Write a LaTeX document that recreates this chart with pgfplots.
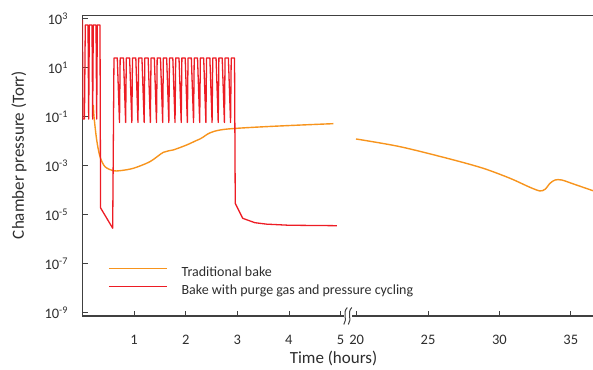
\documentclass[border=0pt]{standalone}
\usepackage{fontspec}
\setmainfont{Carlito}
\usepackage{pgfplots}
\pgfplotsset{compat=1.18}
\definecolor{tradorange}{RGB}{247,148,29}
\definecolor{purgered}{RGB}{237,28,36}
\definecolor{axgray}{RGB}{64,64,64}
\definecolor{txtgray}{RGB}{45,45,45}
\begin{document}
\begin{tikzpicture}
\useasboundingbox (-82.5pt,-53pt) rectangle (510.5pt,316pt);
\begin{axis}[at={(0pt,0pt)}, anchor=south west,
  scale only axis, height=300.3pt, width=265.5pt,
  ymode=log, ymin=7.3e-10, ymax=1325,
  xmin=0, xmax=5.145,
  axis x line*=box, xtick pos=bottom,
  axis y line*=left, ytick pos=left,
  tick align=inside, major tick length=5pt,
  major tick style={axgray, line width=0.8pt},
  axis line style={-, axgray, line width=1.1pt},
  tick label style={font=\fontsize{14.5}{17}\selectfont, text=txtgray},
  /pgf/number format/assume math mode=true,
  xticklabel style={yshift=-16pt},
  yminorticks=false, xminorticks=false,
  xtick={1,2,3,4,5},
  ytick={1e3,1e1,1e-1,1e-3,1e-5,1e-7,1e-9},
  yticklabels={10\textsuperscript{3},10\textsuperscript{1},10\textsuperscript{-1},10\textsuperscript{-3},10\textsuperscript{-5},10\textsuperscript{-7},10\textsuperscript{-9}},
  yticklabel style={xshift=-11pt},
  legend style={draw=none, fill=none, anchor=north west,
    at={(axis description cs:0.096,0.1665)},
    font=\fontsize{14}{16}\selectfont, text=txtgray,
    inner sep=0pt, column sep=14pt, row sep=5pt,
    nodes={inner sep=0pt, text height=10pt, text depth=3pt}},
  legend cell align=left,
  legend image code/.code={\draw[#1] (0pt,4.5pt) -- (58pt,4.5pt);},
]
\addplot[tradorange, line width=1.4pt, smooth, tension=0.5] coordinates {
(0.209,0.3) (0.223,0.1) (0.275,0.0112) (0.339,2.33e-3)
(0.436,9.1e-4) (0.597,6.25e-4) (0.727,6.25e-4) (0.984,7.8e-4) (1.308,1.46e-3)
(1.566,3.5e-3) (1.760,4.4e-3) (2.019,7.0e-3) (2.277,0.0123) (2.762,0.0306) (4.86,0.0518)
};
\addlegendentry{Traditional bake}
\addplot[purgered, line width=1.3pt, line join=round] coordinates {
(0,900) (0.006,0.08) (0.038,0.08)
(0.054,550) (0.107,550) (0.120,0.08)
(0.132,550) (0.184,550) (0.197,0.08)
(0.209,550) (0.262,550) (0.275,0.08)
(0.287,550) (0.339,550)
(0.350,1.9e-5) (0.585,2.8e-6)
(0.610,25) (0.674,25) (0.717,0.058)
(0.730,25) (0.794,25) (0.836,0.058)
(0.849,25) (0.913,25) (0.956,0.058)
(0.969,25) (1.033,25) (1.075,0.058)
(1.088,25) (1.152,25) (1.195,0.058)
(1.208,25) (1.272,25) (1.315,0.058)
(1.328,25) (1.392,25) (1.434,0.058)
(1.447,25) (1.511,25) (1.554,0.058)
(1.567,25) (1.631,25) (1.673,0.058)
(1.686,25) (1.750,25) (1.793,0.058)
(1.806,25) (1.870,25) (1.913,0.058)
(1.926,25) (1.990,25) (2.032,0.058)
(2.045,25) (2.109,25) (2.152,0.058)
(2.165,25) (2.229,25) (2.271,0.058)
(2.284,25) (2.348,25) (2.391,0.058)
(2.404,25) (2.468,25) (2.511,0.058)
(2.524,25) (2.588,25) (2.630,0.058)
(2.643,25) (2.707,25) (2.750,0.058)
(2.763,25) (2.827,25) (2.869,0.058)
(2.882,25) (2.946,25)
(2.960,2.9e-5) (3.105,7.1e-6) (3.34,4.7e-6) (3.57,4.1e-6) (4.0,3.7e-6) (4.93,3.55e-6)
};
\addlegendentry{Bake with purge gas and pressure cycling}
\end{axis}
\begin{axis}[at={(265.5pt,0pt)}, anchor=south west,
  scale only axis, height=300.3pt, width=245pt,
  ymode=log, ymin=7.3e-10, ymax=1325,
  xmin=19.39, xmax=36.56,
  axis x line*=box, xtick pos=bottom,
  axis y line=none, ytick=\empty,
  tick align=inside, major tick length=5pt,
  major tick style={axgray, line width=0.8pt},
  axis line style={-, axgray, line width=1.1pt},
  tick label style={font=\fontsize{14.5}{17}\selectfont, text=txtgray},
  /pgf/number format/assume math mode=true,
  xticklabel style={yshift=-16pt},
  yminorticks=false, xminorticks=false,
  xtick={20,25,30,35},
]
\addplot[tradorange, line width=1.4pt, smooth, tension=0.5] coordinates {
(19.95,0.0123) (23.03,5.97e-3) (26.54,1.87e-3) (28.87,7.8e-4) (30.74,3.06e-4)
(32.14,1.31e-4) (32.84,9.3e-5) (33.20,1.09e-4) (33.55,1.91e-4) (33.90,2.6e-4)
(34.37,2.6e-4) (35.19,1.79e-4) (36.56,9.5e-5)
};
\end{axis}
% axis break marks
\fill[white] (261.5pt,-2pt) rectangle (269.5pt,2pt);
\draw[axgray, line width=1pt] (264.8pt,8.5pt) .. controls (259.5pt,3pt) and (265.5pt,-3pt) .. (261.3pt,-8.5pt);
\draw[axgray, line width=1pt] (269.3pt,8.5pt) .. controls (264pt,3pt) and (270pt,-3pt) .. (265.8pt,-8.5pt);
% axis labels
\node[rotate=90, font=\fontsize{17}{20}\selectfont, text=txtgray] at (-63.5pt,161pt) {Chamber pressure (Torr)};
\node[font=\fontsize{17}{20}\selectfont, text=txtgray] at (251pt,-42pt) {Time (hours)};
\end{tikzpicture}
\end{document}
